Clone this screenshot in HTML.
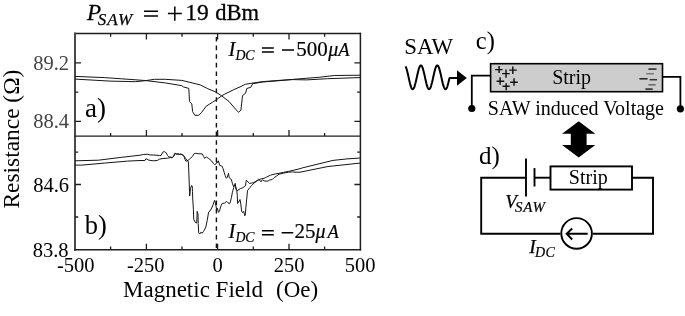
<!DOCTYPE html>
<html><head><meta charset="utf-8">
<style>
html,body{margin:0;padding:0;background:#fff;width:685px;height:316px;overflow:hidden}
svg{display:block;will-change:transform}
text{font-family:"Liberation Serif",serif}
.it{font-style:italic}
</style></head>
<body>
<svg width="685" height="316" viewBox="0 0 685 316">
<!-- title -->
<g id="title">
<text x="87" y="20.4" font-size="23" class="it" stroke="#000" stroke-width="0.3">P</text>
<text x="97.8" y="24.8" font-size="17" letter-spacing="1" class="it" stroke="#000" stroke-width="0.25">SAW</text>
<path d="M144 11.2h14 M144 15.9h14 M167.9 13.6h13.9 M174.8 6.5v14.3" stroke="#000" stroke-width="1.5"/>
<text x="185.2" y="19.5" font-size="23.5" stroke="#000" stroke-width="0.3">19</text>
<text x="215.2" y="19.5" font-size="22.5" stroke="#000" stroke-width="0.3">dBm</text>
</g>

<!-- frame -->
<g fill="none" stroke-linecap="square">
<line x1="75" y1="33.5" x2="360.4" y2="33.5" stroke="#1e1e1e" stroke-width="1.4"/>
<line x1="75" y1="33.5" x2="75" y2="249.7" stroke="#4a4a4a" stroke-width="2"/>
<line x1="75" y1="249.7" x2="360.4" y2="249.7" stroke="#1e1e1e" stroke-width="1.5"/>
<line x1="360.4" y1="33.5" x2="360.4" y2="249.7" stroke="#1e1e1e" stroke-width="1.5"/>
<line x1="75" y1="136.1" x2="360.4" y2="136.1" stroke="#1e1e1e" stroke-width="1.3"/>
</g>
<!-- ticks -->
<g stroke="#1e1e1e" stroke-width="1.3">
<path d="M110.6 33.5v3.2 M182 33.5v3.2 M253.3 33.5v3.2 M324.6 33.5v3.2 M146.4 33.5v6.0 M217.6 33.5v6.0 M289 33.5v6.0"/>
<path d="M110.6 136.1v-3.2 M182 136.1v-3.2 M253.3 136.1v-3.2 M324.6 136.1v-3.2 M146.4 136.1v-6.0 M217.6 136.1v-6.0 M289 136.1v-6.0"/>
<path d="M110.6 249.7v-3.2 M182 249.7v-3.2 M253.3 249.7v-3.2 M324.6 249.7v-3.2 M146.4 249.7v-6.0 M217.6 249.7v-6.0 M289 249.7v-6.0"/>
<path d="M75 92.2h3.2 M75 62.8h6.0 M75 121.4h6.0"/>
<path d="M360.4 92.2h-3.2 M360.4 62.8h-6.0 M360.4 121.4h-6.0"/>
<path d="M75 152.1h3.2 M75 217h3.2 M75 184.5h6.0"/>
<path d="M360.4 152.1h-3.2 M360.4 217h-3.2 M360.4 184.5h-6.0"/>
</g>
<!-- dashed zero line -->
<line x1="216.4" y1="37" x2="216.4" y2="249" stroke="#111" stroke-width="1.4" stroke-dasharray="4.6 4"/>

<!-- panel a curves -->
<g fill="none" stroke="#151515" stroke-width="1" stroke-linejoin="round">
<polyline points="75,76.4 104.2,77.6 121.7,78.8 145.1,80.5 150,81.1 165.2,82.9 181.9,85.7 183.4,86.9 188.8,88.4 189.5,101.6 191.8,103.9 192.6,111.5 194.8,115.3 198.6,115.3 201.7,112.3 206.2,106.2 212.3,102.4 216.9,99.4 222,95.6 224.2,94.4 233.7,89.7 240,86.9 245.3,84.3 253.1,83 262.8,81.6 292.5,79.4 318.8,77.3 334.6,75.5 360,75.2"/>
<polyline points="75,79.1 110,81.1 135.7,81.7 145.1,80.7 154.6,79.3 165.2,79.3 181.9,80.4 188,81.9 200.2,84.9 207.8,88.7 215.3,91.8 221.4,95.6 229,101.5 236.1,109.8 238.5,112.2 240.9,110.3 242.5,95.6 245.6,93.2 246.8,88.5 250.8,87.3 252.7,83.7 262.8,82 292.5,79.6 306.5,79.9 327.6,78.7 360,77.6"/>
</g>
<!-- panel b curves -->
<g fill="none" stroke="#151515" stroke-width="1" stroke-linejoin="round">
<polyline points="75,160.8 98.4,160.2 121.7,157.3 140,155.2 143.3,154.5 147.2,154.2 149.9,154.9 153.2,155 159.7,155.5 161,155.5 162.7,152.2 164.3,151.6 166.3,152.9 167.6,155.5 168.9,156.8 170.9,157.2 172.2,157.5 173.6,155.9 174.9,153.2 175.9,153.6 176.8,154.2 177.8,153.6 179.5,154.2 181.1,154.2 182.8,155.2 184.1,156.8 185.1,159.6 185.9,161.2 187.5,160.8 189.5,159.2 192.7,156.1 194.2,153.5 195.8,153.3 198.2,153.7 202.2,153.9 203.7,156.5 204.5,158.3 206.4,157 208.3,158.3 211.5,160.8 213.4,163.4 214.6,164.6 215.9,164 217.2,161.5 217.8,162.7 218.4,160.8 219.7,165.4 221.9,166.1 223,168.3 224.1,172.2 225.2,175.5 226.3,178.3 227.4,177.2 228.5,173.3 229.1,177.2 230.2,178.8 231.3,179.4 232.4,183.3 233.5,186.6 234.6,184.9 235.2,183.3 235.7,186.6 236.8,190.5 237.3,195.7 237.6,203.5 238.6,202 240,199.5 240.8,204 241.6,211.1 242.7,212.7 243.7,211.4 244.8,215.8 245.2,215.1 246.5,201 247.1,195 247.5,190.6 249.9,187.4 252.3,185 253.8,183.1 256.2,181.5 258.2,180.3 259.4,179.5 261.8,178.7 264.1,178.3 266.6,177.1 270.4,175.2 274.2,174.2 279,173.3 283.7,172.3 288.5,171.4 293.2,170.3 300,168.7 302.7,167.8 333,160.4 347,158.9 360,158"/>
<polyline points="75,165.1 82,165.1 104.2,163.1 127.6,161.1 140,160.5 144.9,160.5 145.9,158.8 146.9,159.1 148.6,160.1 153.2,160.8 157.1,160.5 159.7,159.1 163,158.5 167.6,158.2 170.3,157.5 172.2,157.8 173.6,156.5 174.5,154.9 175.5,153.6 176.8,154.2 178.2,154.2 179.5,154.5 180.8,154.2 182.1,154.5 183.4,155.2 184.4,156.5 185.5,158.4 187.1,160 188.3,161.6 188.5,164 189.7,196 190.5,188.3 191.6,185.5 192.2,186 192.5,191.6 192.8,200 193.4,209.2 193.7,219.2 195.1,222 196.3,223.2 196.8,222 197.2,211.4 198,214.2 198.2,223.4 198.7,232.7 199.7,234.1 200.8,232.3 202.2,233.1 203.6,231.3 204.8,229.1 205.8,227 207.2,220.6 208.6,212.1 210,211 211.7,208 213.2,204.5 214.5,200.3 215.3,202.2 216,206 216.6,209.5 217.4,208.2 218.5,212.3 219.5,210.9 220.9,206.1 222.3,203.3 224.2,203.3 226.6,201.4 228,202.8 229.5,203.8 230.4,201.9 231.4,197.6 232.3,192.8 232.9,190.6 233.7,187.4 234.5,185 235.3,185.8 236.1,189.8 237.3,190.6 240.4,188.6 242.8,187.8 244.3,186.6 245.5,185.8 245.9,182.7 246.3,180.3 247.1,180.7 248.3,182.3 249.5,183.5 251.5,183.1 253.4,182.5 255,181.9 257,180.7 258.6,179.3 259.4,179.9 260.2,181.1 261,181.9 261.4,180.7 262.5,179.9 264.9,181.1 268,181.1 269.5,180.1 272.3,179.5 274.2,177.6 276.6,176 279,174.2 283.7,173.1 288.5,172.2 292.3,171.9 296.1,172.2 300,172.2 328,166.5 360,163.1"/>
</g>

<!-- plot labels -->
<g font-size="20.5">
<text x="69" y="69.5" text-anchor="end" fill="#444">89.2</text>
<text x="69" y="128.3" text-anchor="end" fill="#444">88.4</text>
<text x="69" y="191.6" text-anchor="end">84.6</text>
<text x="68.6" y="256.6" text-anchor="end">83.8</text>
<text x="75.8" y="272.4" text-anchor="middle">-500</text>
<text x="145.8" y="272.4" text-anchor="middle">-250</text>
<text x="217.6" y="272.4" text-anchor="middle">0</text>
<text x="289" y="272.4" text-anchor="middle">250</text>
<text x="360" y="272.4" text-anchor="middle">500</text>
</g>
<text x="123" y="297.3" font-size="23">Magnetic Field</text><text x="276" y="297.3" font-size="23">(Oe)</text>
<text transform="translate(19.4 208.5) rotate(-90)" font-size="23.4">Resistance (Ω)</text>
<text x="85" y="117.3" font-size="27">a)</text>
<text x="84.8" y="234" font-size="26.5">b)</text>

<!-- I_DC labels -->
<g>
<text x="228.6" y="55.6" font-size="20.5" class="it" stroke="#000" stroke-width="0.2">I</text>
<text x="235.4" y="59.6" font-size="13.8" class="it" stroke="#000" stroke-width="0.2">DC</text>
<path d="M261.9 47.9h11.9 M261.9 51.9h11.9 M282 49.9h12" stroke="#000" stroke-width="1.5"/>
<text x="296.3" y="55.5" font-size="21" stroke="#000" stroke-width="0.2">500</text>
<text x="328.3" y="55.5" font-size="20" class="it" stroke="#000" stroke-width="0.2">μ</text>
<text x="338.2" y="55.5" font-size="18.5" class="it" stroke="#000" stroke-width="0.2">A</text>
<text x="228.6" y="238.4" font-size="20.5" class="it" stroke="#000" stroke-width="0.2">I</text>
<text x="235.4" y="242.4" font-size="13.8" class="it" stroke="#000" stroke-width="0.2">DC</text>
<path d="M261.9 230.8h11.9 M261.9 234.8h11.9 M281.6 232.8h11.6" stroke="#000" stroke-width="1.5"/>
<text x="294.6" y="238.3" font-size="21" stroke="#000" stroke-width="0.2">25</text>
<text x="315.5" y="238.3" font-size="20" class="it" stroke="#000" stroke-width="0.2">μ</text>
<text x="327.4" y="238.3" font-size="18.5" class="it" stroke="#000" stroke-width="0.2">A</text>
</g>

<!-- ===== diagram c ===== -->
<text x="404.2" y="54" font-size="23" textLength="49" lengthAdjust="spacingAndGlyphs">SAW</text>
<text x="475.8" y="48.5" font-size="24.5">c)</text>
<polyline points="405.6,66.4 406.0,67.3 406.4,68.4 406.8,69.7 407.2,71.2 407.6,72.9 408.0,74.6 408.4,76.4 408.8,78.2 409.2,80.0 409.6,81.7 410.0,83.4 410.4,84.9 410.8,86.2 411.2,87.3 411.6,88.2 412.0,88.8 412.4,89.1 412.8,89.2 413.2,89.0 413.6,88.5 414.0,87.8 414.4,86.8 414.8,85.6 415.2,84.1 415.6,82.6 416.0,80.9 416.4,79.1 416.8,77.3 417.2,75.5 417.6,73.7 418.0,72.0 418.4,70.5 418.8,69.0 419.2,67.8 419.6,66.8 420.0,66.1 420.4,65.6 420.8,65.4 421.2,65.5 421.6,65.8 422.0,66.4 422.4,67.3 422.8,68.4 423.2,69.7 423.6,71.2 424.0,72.9 424.4,74.6 424.8,76.4 425.2,78.2 425.6,80.0 426.0,81.7 426.4,83.4 426.8,84.9 427.2,86.2 427.6,87.3 428.0,88.2 428.4,88.8 428.8,89.1 429.2,89.2 429.6,89.0 430.0,88.5 430.4,87.8 430.8,86.8 431.2,85.6 431.6,84.1 432.0,82.6 432.4,80.9 432.8,79.1 433.2,77.3 433.6,75.5 434.0,73.7 434.4,72.0 434.8,70.5 435.2,69.0 435.6,67.8 436.0,66.8 436.4,66.1 436.8,65.6 437.2,65.4 437.6,65.5 438.0,65.8 438.4,66.4 438.8,67.3 439.2,68.4 439.6,69.7 440.0,71.2 440.4,72.9 440.8,74.6 441.2,76.4 441.6,78.2 442.0,80.0 442.4,81.7 442.8,83.4 443.2,84.9 443.6,86.2 444.0,87.3 444.4,88.2 444.8,88.8 445.2,89.1 445.6,89.2 446.0,89.0 446.4,88.5 446.8,87.8 447.2,86.8 447.6,85.6 448.0,84.1 448.4,82.6 448.8,80.9 449.2,79.1 449.7,77.9 458,78" fill="none" stroke="#000" stroke-width="2" stroke-linejoin="round"/>
<path d="M457 70.2 L466.8 78 L457 85.8 Z" fill="#000"/>
<rect x="490.6" y="63.7" width="171.9" height="28" fill="#cdcdcd" stroke="#000" stroke-width="1.6"/>
<g stroke="#000" stroke-width="1.8" fill="none">
<path d="M490.6 75.6 H471.8 V108.5"/>
<path d="M662.5 76.8 H680.4 V108.8"/>
</g>
<circle cx="471.8" cy="108.5" r="3.6"/>
<circle cx="680.4" cy="108.8" r="3.6"/>
<g stroke="#111" stroke-width="1.45">
<path d="M495.1 69.6H502.6 M499.1 66V73.1 M502.1 73.6H509.7 M506 69.6V77.7 M509.2 70.1H516.8 M512.8 66.5V74.1 M496.6 81.2H504.2 M500.1 77.2V84.8 M502.6 86.3H509.7 M506.2 83.2V90.3 M510.2 82.2H517.8 M514 78.2V85.8"/>
</g>
<g stroke-width="1.5">
<path d="M648.4 69.1h8.1" stroke="#222"/>
<path d="M646.2 73.7h7.7" stroke="#777"/>
<path d="M639.4 78.8h8.2" stroke="#222"/>
<path d="M649.6 79.7h7.4" stroke="#333"/>
<path d="M648.4 84.8h7.2" stroke="#666"/>
<path d="M645.4 89.1h7.3" stroke="#222"/>
</g>
<text x="552.2" y="83.5" font-size="20">Strip</text>
<text x="487.8" y="115" font-size="20">SAW induced Voltage</text>
<!-- double arrow -->
<path d="M578.7 121.3 L595.3 133.7 L586.6 133.7 L586.6 145.1 L595.3 145.1 L578.7 157.4 L562.1 145.1 L570.8 145.1 L570.8 133.7 L562.1 133.7 Z" fill="#000"/>

<!-- ===== diagram d ===== -->
<text x="479" y="163.5" font-size="25">d)</text>
<g stroke="#000" stroke-width="1.9" fill="none">
<path d="M526 177.7 H481.2 V233.7 H560.5"/>
<path d="M592.8 233.7 H653 V177.8 H632"/>
<path d="M534.5 177.7 H550.5"/>
<line x1="526" y1="158.6" x2="526" y2="196.5"/>
<line x1="534.5" y1="168.1" x2="534.5" y2="186.5"/>
<rect x="550.5" y="166.4" width="81.5" height="23.2"/>
<circle cx="576.6" cy="233.4" r="15.3"/>
<path d="M587.7 233.7 H566.6 M572.2 228.5 L566.6 233.7 L572.2 239.5"/>
</g>
<text x="568.8" y="183.5" font-size="20">Strip</text>
<text x="505.3" y="208.2" font-size="19" class="it" stroke="#000" stroke-width="0.25">V</text>
<text x="515" y="211.9" font-size="15" letter-spacing="0.7" class="it" stroke="#000" stroke-width="0.2">SAW</text>
<text x="529.3" y="252.5" font-size="19.5" class="it" stroke="#000" stroke-width="0.25">I</text>
<text x="535" y="256.5" font-size="14" letter-spacing="0.3" class="it" stroke="#000" stroke-width="0.2">DC</text>
</svg>
</body></html>
